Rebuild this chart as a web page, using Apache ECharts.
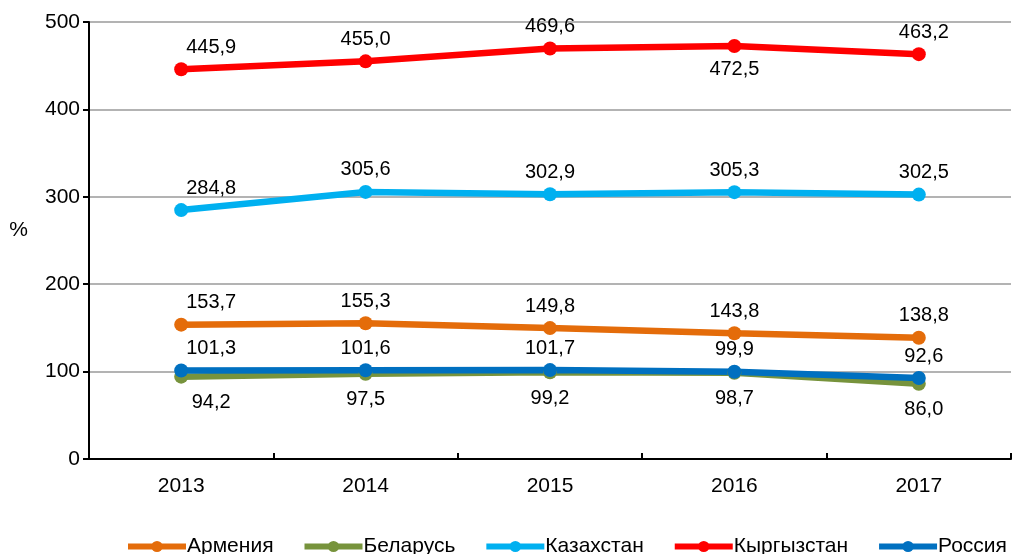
<!DOCTYPE html>
<html>
<head>
<meta charset="utf-8">
<script src="https://cdn.jsdelivr.net/npm/echarts@6/dist/echarts.min.js"></script>
<style>
  html, body { margin: 0; padding: 0; background: #fff; }
  #chart { width: 1012px; height: 554px; }
</style>
</head>
<body>
<div id="chart"></div>
<script>
const years = ['2013', '2014', '2015', '2016', '2017'];
const seriesNames = ['Армения', 'Беларусь', 'Казахстан', 'Кыргызстан', 'Россия'];
const armenia = [153.7, 155.3, 149.8, 143.8, 138.8];
const belarus = [94.2, 97.5, 99.2, 98.7, 86.0];
const kazakhstan = [284.8, 305.6, 302.9, 305.3, 302.5];
const kyrgyzstan = [445.9, 455.0, 469.6, 472.5, 463.2];
const russia = [101.3, 101.6, 101.7, 99.9, 92.6];
const yTicks = [0, 100, 200, 300, 400, 500];

const colors = ['#E46C0A', '#77933C', '#00B0F0', '#FF0000', '#0070C0'];
const font = "'Liberation Sans', Arial, sans-serif";

const fmt = v => v.toFixed(1).replace('.', ',');

// labels on the first column sit to the right of the point, like the original
const makeData = (values, below, belowAt) => values.map((v, i) => {
  const under = below || belowAt === i;
  const dx = i === 0 ? 30 : (i === values.length - 1 ? 5 : 0);
  return {
    value: v,
    label: {
      position: under ? 'bottom' : 'top',
      distance: under ? (below ? 9 : 6) : 5,
      offset: [dx, 0]
    }
  };
});

const lineSeries = (name, values, color, below, belowAt) => ({
  name,
  type: 'line',
  data: makeData(values, below, belowAt),
  symbol: 'circle',
  symbolSize: 14,
  lineStyle: { width: 6.5, color },
  itemStyle: { color },
  label: {
    show: true,
    color: '#000',
    fontFamily: font,
    fontSize: 20,
    formatter: p => fmt(p.value)
  },
  emphasis: { disabled: true }
});

const chart = echarts.init(document.getElementById('chart'));
chart.setOption({
  backgroundColor: '#fff',
  animation: false,
  grid: { left: 89, right: 1, top: 22, bottom: 95 },
  legend: {
    data: seriesNames,
    left: 120,
    top: 531,
    width: 900,
    itemWidth: 58,
    itemHeight: 14,
    itemGap: 28,
    lineStyle: { width: 6 },
    textStyle: { fontFamily: font, fontSize: 21, color: '#000', padding: [0, 0, 0, -4] }
  },
  xAxis: {
    type: 'category',
    data: years,
    boundaryGap: true,
    axisLine: { lineStyle: { color: '#000', width: 2 } },
    axisTick: { show: true, inside: true, length: 6, lineStyle: { color: '#000', width: 2 } },
    axisLabel: { color: '#000', fontFamily: font, fontSize: 21, margin: 17 },
    splitLine: { show: false }
  },
  yAxis: {
    type: 'value',
    min: yTicks[0],
    max: yTicks[yTicks.length - 1],
    interval: 100,
    name: '%',
    nameLocation: 'middle',
    nameRotate: 0,
    nameGap: 61,
    nameTextStyle: { color: '#000', fontFamily: font, fontSize: 21, verticalAlign: 'bottom' },
    axisLine: { show: true, lineStyle: { color: '#000', width: 2 } },
    axisTick: { show: true, length: 6, lineStyle: { color: '#000', width: 2 } },
    axisLabel: { color: '#000', fontFamily: font, fontSize: 21, margin: 9 },
    splitLine: { lineStyle: { color: '#9a9a9a', width: 1.5 } }
  },
  series: [
    lineSeries(seriesNames[0], armenia, colors[0], false),
    lineSeries(seriesNames[1], belarus, colors[1], true),
    lineSeries(seriesNames[2], kazakhstan, colors[2], false),
    lineSeries(seriesNames[3], kyrgyzstan, colors[3], false, 3),
    lineSeries(seriesNames[4], russia, colors[4], false)
  ]
});
</script>
</body>
</html>
